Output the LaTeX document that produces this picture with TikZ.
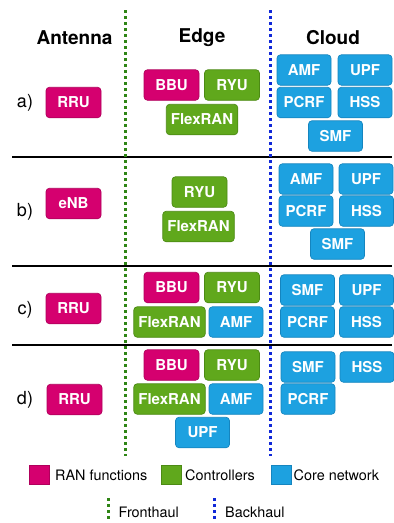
\documentclass[tikz,border=0pt]{standalone}
\usepackage{fontspec}
\setmainfont{TeX Gyre Heros}
\definecolor{ranc}{HTML}{D5006F}
\definecolor{ranb}{HTML}{B0005C}
\definecolor{ctlc}{HTML}{60A81C}
\definecolor{ctlb}{HTML}{4C8A14}
\definecolor{corec}{HTML}{1DA1E0}
\definecolor{coreb}{HTML}{1585BF}
\definecolor{fhc}{HTML}{2F8515}
\definecolor{bhc}{HTML}{1028D8}
\begin{document}
\begin{tikzpicture}[x=1pt,y=-1pt,
  box/.style={rounded corners=3.5pt, line width=0.7pt, minimum height=30.5pt, minimum width=55pt,
    inner sep=0pt, text=white, font=\fontsize{15}{16}\selectfont\bfseries},
  ran/.style={box, fill=ranc, draw=ranb},
  ctl/.style={box, fill=ctlc, draw=ctlb},
  core/.style={box, fill=corec, draw=coreb, minimum width=54pt},
  wide/.style={minimum width=71.5pt},
  hdr/.style={font=\fontsize{19}{22}\selectfont\bfseries},
  rowlab/.style={font=\fontsize{18}{20}\selectfont},
  leg/.style={font=\fontsize{14.4}{16}\selectfont, anchor=west, inner sep=0pt},
  legsq/.style={minimum width=20pt, minimum height=19pt, inner sep=0pt, line width=0.7pt},
  sep/.style={line width=1.3pt},
  fh/.style={draw=fhc, line width=3pt, dash pattern=on 3pt off 3pt},
  bh/.style={draw=bhc, line width=3pt, dash pattern=on 3pt off 3pt}]
\useasboundingbox (0,0) rectangle (394,523);
% separators
\coordinate (s1l) at (12,157); \coordinate (s1r) at (392,157);
\coordinate (s2l) at (12,266); \coordinate (s2r) at (392,266);
\coordinate (s3l) at (12,345); \coordinate (s3r) at (392,345);
\draw[sep] (s1l) -- (s1r);
\draw[sep] (s2l) -- (s2r);
\draw[sep] (s3l) -- (s3r);
\coordinate (ft) at (125.8,10); \coordinate (fb) at (125.8,456);
\coordinate (bt) at (270.6,10); \coordinate (bb) at (270.6,456);
\draw[fh] (ft) -- (fb);
\draw[bh] (bt) -- (bb);
% headers
\node[hdr] (hA) at (74.5,38) {Antenna};
\node[hdr] (hE) at (202,38) {Edge};
\node[hdr] (hC) at (333,38) {Cloud};
% row a
\node[rowlab] (la) at (25,103) {a)};
\node[ran] (a-rru) at (73.5,102.5) {RRU};
\node[ran] (a-bbu) at (171.5,85) {BBU};
\node[ctl] (a-ryu) at (232,85) {RYU};
\node[ctl,wide] (a-flex) at (202,119.5) {FlexRAN};
\node[core] (a-amf) at (304,70) {AMF};
\node[core] (a-upf) at (365,70) {UPF};
\node[core] (a-pcrf) at (304,102.5) {PCRF};
\node[core] (a-hss) at (365,102.5) {HSS};
\node[core] (a-smf) at (335.5,136) {SMF};
% row b
\node[rowlab] (lb) at (25,212) {b)};
\node[ran] (b-enb) at (73.5,203.5) {eNB};
\node[ctl] (b-ryu) at (199.5,192) {RYU};
\node[ctl,wide] (b-flex) at (198.5,226.5) {FlexRAN};
\node[core] (b-amf) at (306,179) {AMF};
\node[core] (b-upf) at (366,179) {UPF};
\node[core] (b-pcrf) at (306,211) {PCRF};
\node[core] (b-hss) at (366.5,211) {HSS};
\node[core] (b-smf) at (337.5,244) {SMF};
% row c
\node[rowlab] (lc) at (25,310) {c)};
\node[ran] (c-rru) at (73.5,308.5) {RRU};
\node[ran] (c-bbu) at (171.5,287.5) {BBU};
\node[ctl] (c-ryu) at (232,287.5) {RYU};
\node[ctl,wide] (c-flex) at (169.5,322) {FlexRAN};
\node[core] (c-amf) at (236,322) {AMF};
\node[core] (c-smf) at (307.5,290) {SMF};
\node[core] (c-upf) at (366.5,290) {UPF};
\node[core] (c-pcrf) at (307.5,322) {PCRF};
\node[core] (c-hss) at (366.5,322) {HSS};
% row d
\node[rowlab] (ld) at (25,400) {d)};
\node[ran] (d-rru) at (74.5,399.5) {RRU};
\node[ran] (d-bbu) at (171.5,365) {BBU};
\node[ctl] (d-ryu) at (232,365) {RYU};
\node[ctl,wide] (d-flex) at (169.5,399) {FlexRAN};
\node[core] (d-amf) at (236,399) {AMF};
\node[core] (d-upf) at (202.5,432.5) {UPF};
\node[core] (d-smf) at (308,367) {SMF};
\node[core] (d-hss) at (367,367) {HSS};
\node[core] (d-pcrf) at (308,399) {PCRF};
% legend
\node[legsq, fill=ranc, draw=ranb] (q1) at (39.5,474.5) {};
\node[leg] (t1) at (55,475) {RAN functions};
\node[legsq, fill=ctlc, draw=ctlb] (q2) at (171,474.5) {};
\node[leg] (t2) at (185,475) {Controllers};
\node[legsq, fill=corec, draw=coreb] (q3) at (281,474.5) {};
\node[leg] (t3) at (293.5,475) {Core network};
\coordinate (lf1) at (108,498); \coordinate (lf2) at (108,521);
\coordinate (lb1) at (214,498); \coordinate (lb2) at (214,521);
\draw[fh] (lf1) -- (lf2);
\draw[bh] (lb1) -- (lb2);
\node[leg] (t4) at (118.5,512) {Fronthaul};
\node[leg] (t5) at (225,512) {Backhaul};
\end{tikzpicture}
\end{document}
